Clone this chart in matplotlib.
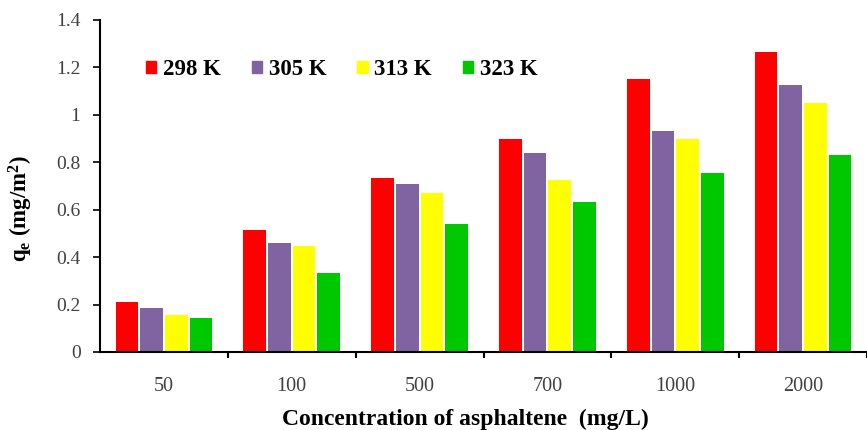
import numpy as np
import matplotlib.pyplot as plt
from matplotlib.patches import Patch

plt.rcParams['font.family'] = ['Liberation Serif', 'DejaVu Serif']
plt.rcParams['mathtext.fontset'] = 'custom'
plt.rcParams['mathtext.rm'] = 'Liberation Serif'
plt.rcParams['mathtext.bf'] = 'Liberation Serif:bold'
plt.rcParams['mathtext.it'] = 'Liberation Serif:italic'

# data
concentrations = ['50', '100', '500', '700', '1000', '2000']
temps = ['298 K', '305 K', '313 K', '323 K']
q_298 = [0.21, 0.515, 0.735, 0.90, 1.15, 1.265]
q_305 = [0.185, 0.46, 0.71, 0.84, 0.932, 1.126]
q_313 = [0.155, 0.445, 0.67, 0.725, 0.898, 1.05]
q_323 = [0.145, 0.335, 0.54, 0.633, 0.755, 0.831]
series = [q_298, q_305, q_313, q_323]
colors = ['#FF0000', '#8064A2', '#FFFF00', '#00C800']

fig = plt.figure(figsize=(8.67, 4.30), dpi=100)
ax = fig.add_axes([100/867, 78/430, 767/867, 332/430])

x = np.arange(len(concentrations))
step = 0.193
width = 0.178
for i, (vals, c) in enumerate(zip(series, colors)):
    ax.bar(x + (i - 1.5) * step, vals, width, color=c, label=temps[i])

ax.set_ylim(0, 1.4)
ax.set_yticks(np.arange(0, 1.41, 0.2))
ax.set_yticklabels(['0', '0.2', '0.4', '0.6', '0.8', '1', '1.2', '1.4'])
ax.set_xlim(-0.5, -0.5 + 767 / 129.3)

# category labels centred, tick marks between groups
ax.set_xticks(x)
ax.set_xticklabels(concentrations)
ax.set_xticks(np.arange(0.5, len(concentrations), 1.0), minor=True)
ax.tick_params(axis='x', which='major', length=0, pad=18, labelsize=14.5, labelcolor='#404040')
ax.tick_params(axis='x', which='minor', length=4, width=1.5, direction='out')
ax.tick_params(axis='y', length=5, width=1.2, direction='out', pad=9, labelsize=14, labelcolor='#404040')

for s in ['top', 'right']:
    ax.spines[s].set_visible(False)
ax.spines['left'].set_linewidth(1.5)
ax.spines['bottom'].set_linewidth(1.5)

ax.set_xlabel('Concentration of asphaltene  (mg/L)', fontsize=17, fontweight='bold')
ax.xaxis.set_label_coords(0.477, -0.172)
ax.set_ylabel(r'$\mathbf{q_e\ (mg/m^2)}$', fontsize=16.5)
ax.yaxis.set_label_coords(-0.085, 0.431)

handles = [Patch(color=c) for c in colors]
ax.legend(handles, temps, loc='upper left', bbox_to_anchor=(0.033, 0.945), ncol=4, frameon=False,
          prop={'weight': 'bold', 'size': 16.5}, handlelength=0.45, handleheight=0.45,
          handletextpad=0.3, columnspacing=1.34)

fig.savefig('out.png', dpi=100)
